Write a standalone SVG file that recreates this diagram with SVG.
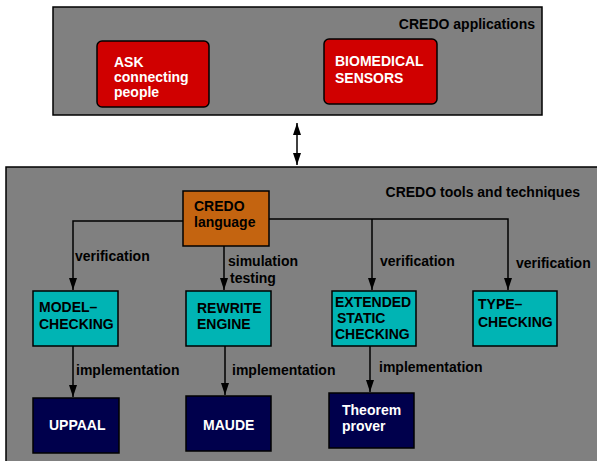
<svg xmlns="http://www.w3.org/2000/svg" width="597" height="461" viewBox="0 0 597 461">
<defs>
<style>
text{font-family:"Liberation Sans",Arial,sans-serif;font-weight:bold;font-size:14px;fill:#000}
.w{fill:#fff}
.panel{fill:#808080;stroke:#000;stroke-width:1.5}
.red{fill:#d00000;stroke:#000;stroke-width:1.5}
.org{fill:#c46410;stroke:#000;stroke-width:1.5}
.cyan{fill:#00b4b4;stroke:#000;stroke-width:1.5}
.navy{fill:#00004c;stroke:#000;stroke-width:1.5}
.ln{fill:none;stroke:#000;stroke-width:1.5}
</style>
<marker id="ah" markerUnits="userSpaceOnUse" markerWidth="8" markerHeight="12" viewBox="0 0 8 12" refX="4" refY="12" orient="auto-start-reverse">
<path d="M0,0 L4,12 L8,0 Z" fill="#000" transform="rotate(0)"/>
</marker>
<marker id="ah2" markerUnits="userSpaceOnUse" markerWidth="12" markerHeight="8" viewBox="0 0 12 8" refX="12" refY="4" orient="auto-start-reverse">
<path d="M0,0 L12,4 L0,8 Z" fill="#000"/>
</marker>
</defs>
<rect width="597" height="461" fill="#fff"/>
<g id="apps">
<rect class="panel" x="53" y="7" width="489" height="108"/>
<text x="535" y="29" text-anchor="end">CREDO applications</text>
</g>
<g id="ask">
<rect class="red" x="97" y="41" width="112" height="66" rx="5"/>
<text class="w" x="114" y="67">ASK</text>
<text class="w" x="114" y="82">connecting</text>
<text class="w" x="114" y="97">people</text>
</g>
<g id="biomedical">
<rect class="red" x="324" y="39" width="113" height="65" rx="5"/>
<text class="w" x="335" y="66">BIOMEDICAL</text>
<text class="w" x="335" y="83">SENSORS</text>
</g>
<g id="tools">
<rect class="panel" x="6" y="167" width="610" height="310"/>
<text x="580" y="197" text-anchor="end">CREDO tools and techniques</text>
</g>
<g id="connectors">
<line class="ln" x1="297" y1="123" x2="297" y2="165" marker-start="url(#ah2)" marker-end="url(#ah2)"/>
<polyline class="ln" points="183,221 73,221 73,290" marker-end="url(#ah2)"/>
<line class="ln" x1="224" y1="246" x2="224" y2="290" marker-end="url(#ah2)"/>
<polyline class="ln" points="269,219 508,219 508,290" marker-end="url(#ah2)"/>
<line class="ln" x1="372" y1="219" x2="372" y2="290" marker-end="url(#ah2)"/>
<line class="ln" x1="73" y1="346" x2="73" y2="397" marker-end="url(#ah2)"/>
<line class="ln" x1="225" y1="346" x2="225" y2="395" marker-end="url(#ah2)"/>
<line class="ln" x1="370" y1="346" x2="370" y2="392" marker-end="url(#ah2)"/>
<text x="75" y="261">verification</text>
<text x="228" y="266">simulation</text>
<text x="230" y="283">testing</text>
<text x="380" y="266">verification</text>
<text x="516" y="268">verification</text>
<text x="76" y="375">implementation</text>
<text x="232" y="375">implementation</text>
<text x="379" y="372">implementation</text>
</g>
<g id="language">
<rect class="org" x="183" y="191" width="86" height="55"/>
<text x="194" y="211">CREDO</text>
<text x="194" y="227">language</text>
</g>
<g id="modelchecking">
<rect class="cyan" x="33" y="291" width="85" height="55"/>
<text x="39" y="312">MODEL–</text>
<text x="39" y="329">CHECKING</text>
</g>
<g id="rewrite">
<rect class="cyan" x="186" y="291" width="85" height="55"/>
<text x="197" y="313">REWRITE</text>
<text x="197" y="329">ENGINE</text>
</g>
<g id="extended">
<rect class="cyan" x="332" y="291" width="84" height="55"/>
<text x="335" y="307">EXTENDED</text>
<text x="337" y="323">STATIC</text>
<text x="335" y="339">CHECKING</text>
</g>
<g id="typechecking">
<rect class="cyan" x="473" y="291" width="84" height="55"/>
<text x="478" y="309">TYPE–</text>
<text x="478" y="327">CHECKING</text>
</g>
<g id="uppaal">
<rect class="navy" x="33" y="398" width="86" height="55"/>
<text class="w" x="49" y="430">UPPAAL</text>
</g>
<g id="maude">
<rect class="navy" x="186" y="396" width="85" height="55"/>
<text class="w" x="203" y="430">MAUDE</text>
</g>
<g id="theorem">
<rect class="navy" x="329" y="393" width="85" height="55"/>
<text class="w" x="342" y="415">Theorem</text>
<text class="w" x="342" y="431">prover</text>
</g>
</svg>
